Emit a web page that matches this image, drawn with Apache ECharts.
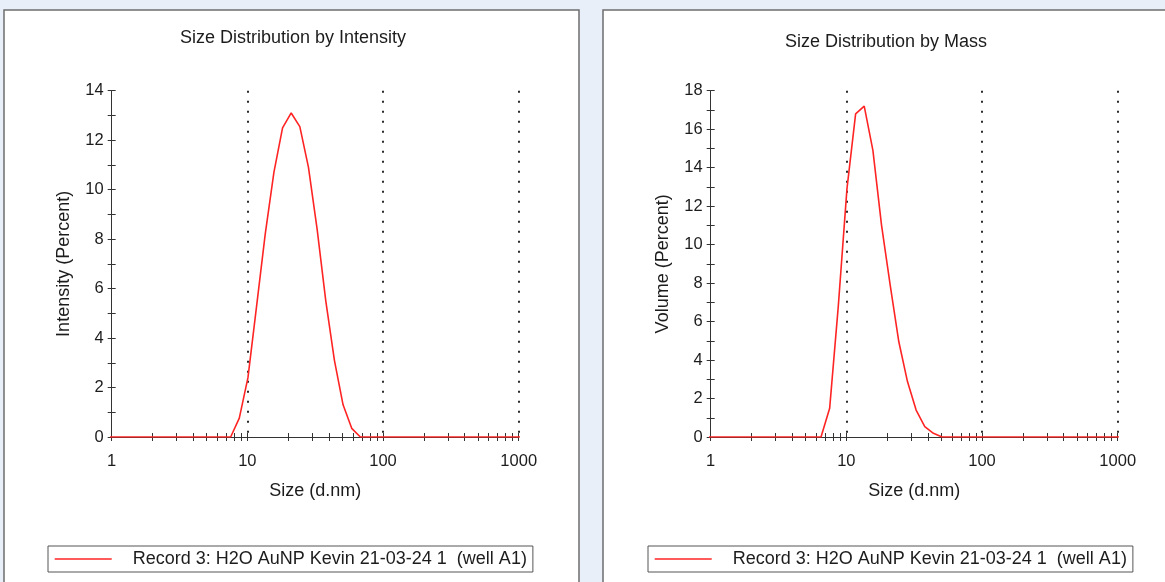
<!DOCTYPE html>
<html>
<head>
<meta charset="utf-8">
<script src="https://cdn.jsdelivr.net/npm/echarts@6/dist/echarts.min.js"></script>
<style>
html,body{margin:0;padding:0;background:#e9eff8;}
#chart{width:1165px;height:582px;}
</style>
</head>
<body>
<div id="chart"></div>
<script>
// ---- data ----
const sizes = [0.9649, 1.117, 1.294, 1.499, 1.736, 2.01, 2.328, 2.696, 3.122, 3.615, 4.187, 4.849, 5.615, 6.503,
  7.531, 8.721, 10.1, 11.7, 13.54, 15.69, 18.17, 21.04, 24.36, 28.21, 32.67, 37.84, 43.82, 50.75, 58.77,
  68.06, 78.82, 91.28, 105.7, 122.4, 141.8, 164.2, 190.1, 220.2, 255.0, 295.3, 342.0, 396.1, 458.7, 531.2,
  615.1, 712.4, 825.0, 955.4, 1106];
const intensity = [0, 0, 0, 0, 0, 0, 0, 0, 0, 0, 0, 0, 0, 0,
  0, 0.76, 2.4, 5.3, 8.2, 10.7, 12.5, 13.1, 12.55, 10.9, 8.4, 5.5, 3.1, 1.3, 0.35,
  0, 0, 0, 0, 0, 0, 0, 0, 0, 0, 0, 0, 0, 0, 0,
  0, 0, 0, 0, 0];
const mass = [0, 0, 0, 0, 0, 0, 0, 0, 0, 0, 0, 0, 0, 0,
  1.49, 6.8, 12.9, 16.8, 17.2, 14.9, 11.0, 7.9, 4.95, 2.88, 1.4, 0.54, 0.19, 0, 0,
  0, 0, 0, 0, 0, 0, 0, 0, 0, 0, 0, 0, 0, 0, 0,
  0, 0, 0, 0, 0];
const xTickValues = [1, 2, 3, 4, 5, 6, 7, 8, 9, 10, 20, 30, 40, 50, 60, 70, 80, 90,
  100, 200, 300, 400, 500, 600, 700, 800, 900, 1000];
const titles = ['Size Distribution by Intensity', 'Size Distribution by Mass'];
const yNames = ['Intensity (Percent)', 'Volume (Percent)'];
const yMax = [14, 18];
const xName = 'Size (d.nm)';
const seriesName = 'Record 3: H2O AuNP Kevin 21-03-24 1  (well A1)';

// ---- styles / layout ----
const FONT = "'Liberation Sans', Arial, sans-serif";
const TXT = '#1c1c1c';
const AX = '#333333';
const RED = '#ff2424';
const grids = [
  {left: 111.7, top: 90.7, width: 407, height: 346.3},
  {left: 710.7, top: 90.7, width: 407, height: 346.3}
];
const titlePos = [[293, 38], [886, 42]];
const legendLeft = [48, 648];

const chart = echarts.init(document.getElementById('chart'), null, {renderer: 'canvas'});

const xAxes = [], yAxes = [], series = [], legends = [];
const logTicks = xTickValues.map(v => Math.log10(v));

grids.forEach((g, gi) => {
  // main log axis: line, labels, dotted gridlines
  xAxes.push({
    type: 'log', logBase: 10, min: 1, max: 1000, gridIndex: gi, position: 'bottom',
    name: xName, nameLocation: 'middle', nameGap: 45,
    nameTextStyle: {color: TXT, fontSize: 18, fontFamily: FONT},
    axisLine: {show: true, lineStyle: {color: AX, width: 1}},
    axisTick: {show: false},
    axisLabel: {show: true, color: TXT, fontSize: 16.5, fontFamily: FONT, margin: 16,
      formatter: v => String(Math.round(v))},
    splitLine: {show: true, showMinLine: false,
      lineStyle: {color: '#2a2a2a', width: 2, type: [2, 8]}},
    minorTick: {show: false}, minorSplitLine: {show: false}
  });
  // tick axes (log10 space) for crossing ticks
  [false, true].forEach(inside => {
    xAxes.push({
      type: 'value', min: 0, max: 3, gridIndex: gi, position: 'bottom',
      axisLine: {show: false},
      axisLabel: {show: false},
      splitLine: {show: false},
      axisTick: {show: true, inside: inside, length: 4, customValues: logTicks,
        lineStyle: {color: AX, width: 1}}
    });
  });
  [false, true].forEach(inside => {
    yAxes.push({
      type: 'value', min: 0, max: yMax[gi], interval: 1, gridIndex: gi, position: 'left',
      name: inside ? '' : yNames[gi], nameLocation: 'middle', nameGap: 39,
      nameTextStyle: {color: TXT, fontSize: 18, fontFamily: FONT},
      axisLine: {show: !inside, lineStyle: {color: AX, width: 1}},
      axisTick: {show: true, inside: inside, length: 4, lineStyle: {color: AX, width: 1}},
      axisLabel: {show: !inside, color: TXT, fontSize: 16.5, fontFamily: FONT, margin: 8,
        formatter: v => (v % 2 === 0 ? String(v) : '')},
      splitLine: {show: false}
    });
  });
  const vals = gi === 0 ? intensity : mass;
  series.push({
    name: seriesName, type: 'line', xAxisIndex: gi * 3, yAxisIndex: gi * 2,
    data: sizes.map((s, i) => [s, vals[i]]),
    symbol: 'none', showSymbol: false, clip: true, smooth: false,
    lineStyle: {color: RED, width: 1.6}, itemStyle: {color: RED},
    z: 5
  });
  legends.push({
    left: legendLeft[gi], top: 546, orient: 'horizontal',
    data: [seriesName], selectedMode: false,
    itemWidth: 57, itemHeight: 14,
    padding: [4, 6, 4, 6],
    borderColor: '#555', borderWidth: 1, backgroundColor: '#fff', borderRadius: 0,
    itemStyle: {opacity: 0},
    lineStyle: {color: RED, width: 1.4, opacity: 1},
    textStyle: {color: TXT, fontSize: 18, fontFamily: FONT, padding: [0, 0, 0, 16]}
  });
});

const graphics = [
  {type: 'rect', shape: {x: 4, y: 10, width: 575, height: 620}, z: -10,
   style: {fill: '#ffffff', stroke: '#6e6e6e', lineWidth: 1.5}},
  {type: 'rect', shape: {x: 603, y: 10, width: 620, height: 620}, z: -10,
   style: {fill: '#ffffff', stroke: '#6e6e6e', lineWidth: 1.5}}
];
titles.forEach((t, i) => {
  graphics.push({type: 'text', x: titlePos[i][0], y: titlePos[i][1], z: 10,
    style: {text: t, fill: TXT, font: '18px ' + FONT, align: 'center', verticalAlign: 'middle',
      textAlign: 'center', textVerticalAlign: 'middle'}});
});

chart.setOption({
  backgroundColor: '#e9eff8',
  animation: false,
  grid: grids.map(g => Object.assign({containLabel: false, outerBoundsMode: 'none'}, g)),
  xAxis: xAxes,
  yAxis: yAxes,
  series: series,
  legend: legends,
  graphic: {elements: graphics},
  tooltip: {show: false}
});
</script>
</body>
</html>
